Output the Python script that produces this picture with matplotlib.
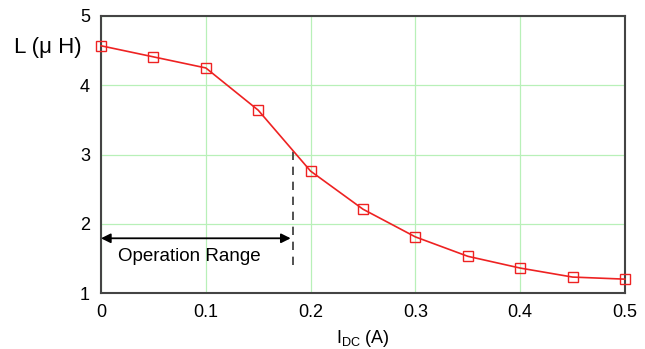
import matplotlib.pyplot as plt
import numpy as np

plt.rcParams['font.family'] = ['Liberation Sans', 'DejaVu Sans']

# data
idc = [0.0, 0.05, 0.1, 0.15, 0.2, 0.25, 0.3, 0.35, 0.4, 0.45, 0.5]
inductance = [4.57, 4.41, 4.25, 3.64, 2.76, 2.21, 1.81, 1.53, 1.36, 1.23, 1.20]
op_limit = 0.183
xticks = [0, 0.1, 0.2, 0.3, 0.4, 0.5]
xticklabels = ['0', '0.1', '0.2', '0.3', '0.4', '0.5']
yticks = [1, 2, 3, 4, 5]

fig = plt.figure(figsize=(6.45, 3.49), dpi=100)
ax = fig.add_axes([101 / 645, 1 - 293 / 349, 524 / 645, 277 / 349])

ax.plot(idc, inductance, color='#ee2222', lw=1.2, marker='s', markersize=7,
        markerfacecolor='none', markeredgecolor='#ee2222', markeredgewidth=1.0,
        clip_on=False, zorder=3)

# operation range marker
y_at_limit = np.interp(op_limit, idc, inductance)
ax.plot([op_limit, op_limit], [1.4, y_at_limit], color='#333333', lw=1.2,
        dashes=(5, 4), zorder=2)
ax.annotate('', xy=(0, 1.79), xytext=(op_limit - 0.002, 1.79),
            arrowprops=dict(arrowstyle='<|-|>', color='black', lw=1.3,
                            mutation_scale=14, shrinkA=0, shrinkB=0))
ax.text(0.016, 1.53, 'Operation Range', fontsize=13.5, va='center', ha='left')

ax.set_xlim(0, 0.5)
ax.set_ylim(1, 5)
ax.set_xticks(xticks)
ax.set_xticklabels(xticklabels)
ax.set_yticks(yticks)
ax.tick_params(length=0, labelsize=13, pad=8)
ax.grid(color='#b8f0b8', lw=0.9)
for s in ax.spines.values():
    s.set_color('#444444')
    s.set_linewidth(1.5)

ax.set_xlabel(r'$\mathregular{I_{DC}}$ (A)', fontsize=13, labelpad=5)
fig.text(14 / 645, 1 - 48 / 349, 'L (\u03bc H)', fontsize=16, va='center', ha='left')

fig.savefig('out.png', dpi=100)
